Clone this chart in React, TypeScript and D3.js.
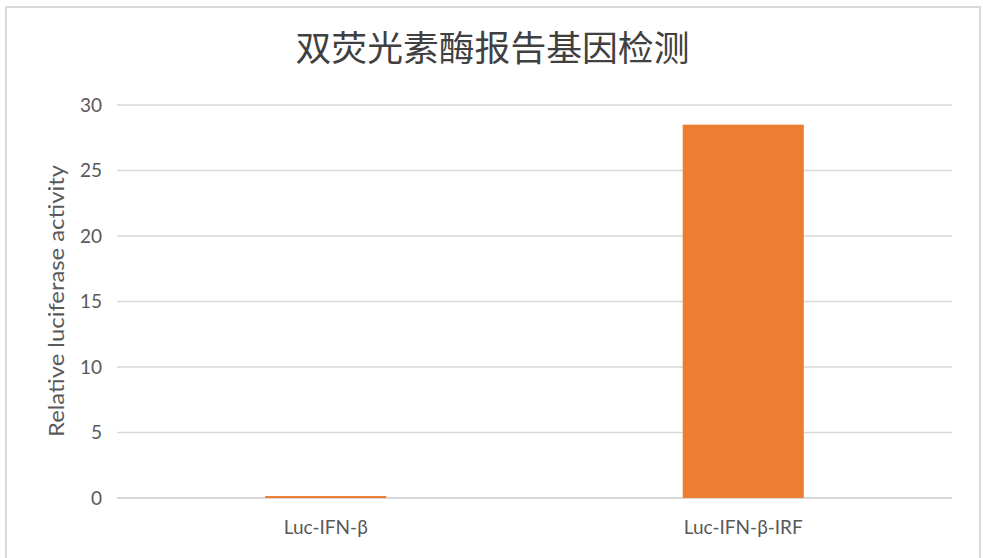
import * as d3 from "d3";
import { useEffect, useRef } from "react";

const categories = ["Luc-IFN-β", "Luc-IFN-β-IRF"];
const values = [0.15, 28.5];
const yTicks = [0, 5, 10, 15, 20, 25, 30];
const chartTitle = "双荧光素酶报告基因检测";
const yTitle = "Relative luciferase activity";

const App = () => {
  const svgRef = useRef<SVGSVGElement | null>(null);

  useEffect(() => {
    const svg = d3.select(svgRef.current);
    svg.selectAll("*").remove();

    const W = 983;
    const H = 558;
    const margin = { top: 105, right: 31, bottom: 60, left: 117 };
    const plotW = W - margin.left - margin.right;
    const plotH = 498 - margin.top;
    const font = "Lato, 'Open Sans', sans-serif";
    const textColor = "#595959";
    const gridColor = "#d9d9d9";

    svg.attr("width", W).attr("height", H);

    svg.append("rect").attr("width", W).attr("height", H).attr("fill", "#fff");

    // chart frame
    svg
      .append("rect")
      .attr("x", 6)
      .attr("y", 7)
      .attr("width", 974)
      .attr("height", H)
      .attr("fill", "none")
      .attr("stroke", gridColor)
      .attr("stroke-width", 2);

    // title
    svg
      .append("text")
      .attr("x", W / 2 + 1)
      .attr("y", 61)
      .attr("text-anchor", "middle")
      .attr("font-family", "'Noto Sans CJK SC', sans-serif")
      .attr("font-size", 35)
      .attr("fill", "#404040")
      .attr("textLength", 394)
      .attr("lengthAdjust", "spacingAndGlyphs")
      .text(chartTitle);

    const g = svg.append("g").attr("transform", `translate(${margin.left},${margin.top})`);

    const x = d3
      .scaleBand<string>()
      .domain(categories)
      .range([0, plotW])
      .paddingInner(0.71)
      .paddingOuter(0.355);

    const y = d3.scaleLinear().domain([0, 30]).range([plotH, 0]);

    // gridlines
    g.selectAll("line.grid")
      .data(yTicks)
      .join("line")
      .attr("class", "grid")
      .attr("x1", 0)
      .attr("x2", plotW)
      .attr("y1", (d) => y(d))
      .attr("y2", (d) => y(d))
      .attr("stroke", gridColor)
      .attr("stroke-width", (d) => (d === 0 ? 2 : 1.3));

    // tick labels
    g.selectAll("text.tick")
      .data(yTicks)
      .join("text")
      .attr("class", "tick")
      .attr("x", -15)
      .attr("y", (d) => y(d))
      .attr("dy", "0.35em")
      .attr("text-anchor", "end")
      .attr("font-family", font)
      .attr("font-size", 19)
      .attr("fill", textColor)
      .text((d) => d);

    // bars
    g.selectAll("rect.bar")
      .data(values)
      .join("rect")
      .attr("class", "bar")
      .attr("x", (d, i) => x(categories[i]) as number)
      .attr("y", (d) => y(d))
      .attr("width", x.bandwidth())
      .attr("height", (d) => y(0) - y(d))
      .attr("fill", "#ed7d31");

    // category labels
    g.selectAll("text.cat")
      .data(categories)
      .join("text")
      .attr("class", "cat")
      .attr("x", (d) => (x(d) as number) + x.bandwidth() / 2)
      .attr("y", plotH + 36)
      .attr("text-anchor", "middle")
      .attr("font-family", font)
      .attr("font-size", 19)
      .attr("fill", textColor)
      .text((d) => d);

    // y axis title
    svg
      .append("text")
      .attr("transform", `translate(64,${301}) rotate(-90)`)
      .attr("text-anchor", "middle")
      .attr("font-family", font)
      .attr("font-size", 21)
      .attr("fill", textColor)
      .attr("textLength", 272)
      .attr("lengthAdjust", "spacingAndGlyphs")
      .text(yTitle);
  }, []);

  return (
    <div style={{ position: "absolute", left: 0, top: 0 }}>
      <svg ref={svgRef}></svg>
    </div>
  );
};

export default App;
